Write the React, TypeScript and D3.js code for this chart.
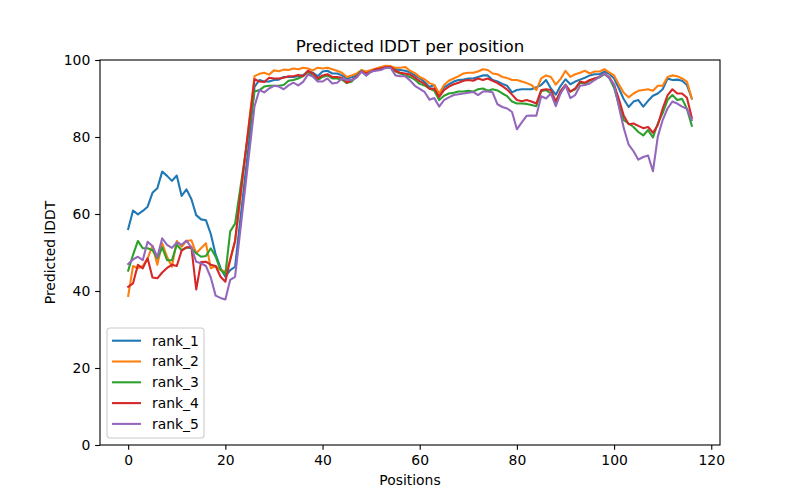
import * as d3 from "d3";
import { useEffect, useRef } from "react";

const rank1 = [
  56.1, 60.9, 59.9, 60.8, 61.9, 65.5, 66.7, 71, 69.9, 68.6, 70, 64.7, 66.4, 63.9, 59.7, 58.6, 58.4, 54.8, 49.5, 46, 43.7, 45.4,
  46.3, 57.7, 68.9, 80, 93, 94.8,
  94.4, 94.4, 94.8, 94.9, 95.6, 95.6, 95.6, 95.8, 96.1, 97, 96.7, 95.8,
  97, 97.2, 96.5, 96.5, 96, 95.2, 95.5, 96, 97, 96, 97, 97.4, 97.8, 98.2, 98.2, 97.6, 97.4, 97.2,
  96.8, 96, 95.3, 94.3, 93, 93.5, 90.9, 92.9, 93.7, 94.4, 94.8, 94.9, 95.2, 95.2, 95.6, 96, 96, 94.8, 94.4, 93.8, 93.3, 91.6, 92.2, 92.4, 92.4,
  92.4, 92.9, 93.5, 94.8, 92.6, 91, 93.3, 95, 93.7, 94.4, 94.9, 95.4, 96, 96.3, 96.3, 97, 96.4, 95.2, 92.6, 89.8,
  87.8, 89.2, 89.6, 87.9, 89.4, 90.7, 91.3, 92.4, 95.2, 94.8, 94.9, 94.6, 93.5, 90,
];

const rank2 = [
  38.7, 46.5, 45.9, 46.5, 48.5, 51.7, 46.8, 52.4, 48.9, 46.3, 53, 51.5, 53, 53.2, 49.8, 51.1, 52.4, 45.9, 46.5, 45.5, 45, 48,
  53, 63, 74, 85, 95.8, 96.4,
  96.7, 96.2, 97.3, 97.1, 97.5, 97.4, 97.8, 97.6, 98, 97.8, 97.3, 98,
  97.8, 98, 97.6, 97.2, 96.7, 95.6, 96, 96.5, 97.4, 97, 97.4, 97.8, 98.2, 98.5, 98.4, 98, 98, 98.2,
  97.2, 96.6, 95.6, 95, 94, 93.5, 91.3, 93.5, 94.6, 95.2, 95.8, 96.5, 96.7, 96.7, 97, 97.6, 97.4, 96.5, 96.3, 95.6, 95.3, 94.8, 94.8, 94.4, 94,
  93.5, 92.2, 95.2, 96, 95.6, 93.6, 95.1, 97.2, 95.6, 96.3, 96.7, 97.2, 96.5, 97, 97, 97.6, 96.8, 96, 93.6, 91.5,
  90.3, 91.3, 92, 92.2, 92.4, 92, 93.3, 93.3, 95.6, 96, 95.8, 95.2, 94.4, 90,
];

const rank3 = [
  45.3, 49.4, 53, 51.1, 51.1, 50.6, 48.5, 51.3, 48, 48, 52, 50.6, 51.3, 51.1, 49.8, 48.9, 49.1, 51.1, 48.9, 45.5, 44.3, 55.5,
  57.5, 66, 74.5, 83, 91.8, 92.2,
  93.1, 93.3, 93.3, 93.3, 93.5, 94.6, 94.8, 95.2, 95.8, 96.9, 95.8, 94.8,
  95.6, 96, 95.2, 95.2, 94.9, 94, 94.4, 95.8, 97.2, 96.3, 97, 97.4, 97.8, 98, 98, 97, 96.5, 96,
  95.6, 94.9, 93.8, 93.4, 92.6, 92, 89.6, 90.7, 91.3, 91.5, 91.8, 91.8, 92, 91.8, 92.4, 92.6, 92, 92.4, 92.1, 91.3, 90.6, 89.2, 88.7, 88.7, 88.6,
  88.3, 88, 91.9, 92.2, 91.3, 89.2, 91.6, 93.2, 91.8, 92.4, 94.1, 93.9, 94.6, 95.2, 95.5, 96.3, 95.4, 92.8, 88.3, 84.4,
  83.5, 82.6, 81.3, 80.4, 81.8, 79.9, 83.5, 86.2, 89.6, 90.9, 89.6, 89.9, 87.3, 82.9,
];

const rank4 = [
  41.1, 42, 46.8, 45.9, 48.5, 43.5, 43.3, 44.8, 46, 46.8, 46.5, 50.5, 51.3, 51.5, 40.4, 47.5, 47.6, 46.8, 46.5, 43.7, 42.4, 48.2,
  53, 63.9, 74.4, 84.8, 95, 94.4,
  94.3, 95.4, 95.2, 95.2, 95.4, 95.8, 95.8, 96.1, 95.8, 97.2, 96.5, 95.2,
  96, 96.3, 95.6, 95.6, 95.4, 94.1, 94.8, 95.6, 97, 96.5, 97, 97.6, 97.8, 98.2, 98.2, 97.2, 96.7, 96.5,
  96.2, 95.4, 94.5, 93.8, 92.5, 92.6, 90.4, 92.2, 93.1, 93.7, 94.1, 94.6, 94.8, 94.6, 95.2, 94.8, 95.2, 94.6, 94, 93.2, 92.3, 91, 89.6, 89.3, 89.6,
  89.2, 88.7, 92.2, 92.4, 92.2, 89.2, 92, 93.6, 91.8, 92.6, 94.4, 94.1, 94.8, 95.2, 95.6, 96.5, 95.5, 93.6, 89.8, 85.5,
  83.3, 83.5, 82.9, 82.3, 82.6, 81.1, 83.1, 87.4, 90.8, 92.4, 91.3, 91.3, 90.2, 85,
];

const rank5 = [
  47, 48.2, 48.9, 48, 52.8, 51.7, 48.8, 53.7, 52, 51.2, 52.6, 52, 53.1, 51.3, 47.6, 47.2, 46.5, 43.5, 38.8, 38.2, 37.8, 42.9,
  43.7, 54.9, 65.9, 76.9, 88, 92.2,
  91.6, 92.6, 93.3, 93.1, 92.4, 93.4, 94.1, 93.4, 94.3, 96.2, 95.7, 94.4,
  94.4, 95.2, 93.9, 94.1, 95.2, 94.8, 94.8, 95.4, 97, 96, 97, 97.2, 97.4, 98, 98, 96, 95.8, 95.8,
  94.7, 93.3, 92.5, 91.7, 89.7, 90.1, 87.9, 89.6, 90.3, 90.9, 91.1, 91.3, 91.5, 91.7, 90.9, 91.8, 91.8, 91.6, 88.5, 87.8, 87.4, 86.5, 82, 83.8, 85.5,
  85.6, 85.5, 90.6, 90, 91.3, 88, 91.3, 93.5, 90.1, 90.9, 93.3, 93.5, 93.9, 94.8, 95.6, 96.5, 95.3, 93.6, 87.8, 82.3,
  78, 76.3, 74.1, 74.8, 75.2, 71.1, 80.1, 84.4, 87.4, 89.2, 88.7, 87.9, 87.3, 84.4,
];

const seriesNames = ["rank_1", "rank_2", "rank_3", "rank_4", "rank_5"];
const seriesValues = [rank1, rank2, rank3, rank4, rank5];
const seriesColors = ["#1f77b4", "#ff7f0e", "#2ca02c", "#d62728", "#9467bd"];
const xTicks = [0, 20, 40, 60, 80, 100, 120];
const yTicks = [0, 20, 40, 60, 80, 100];

const FONT = "DejaVu Sans, sans-serif";

export default function App() {
  const svgRef = useRef<SVGSVGElement | null>(null);

  useEffect(() => {
    if (!svgRef.current) return;
    const svg = d3.select(svgRef.current);
    svg.selectAll("*").remove();

    const width = 800;
    const height = 500;
    const left = 100;
    const right = 720;
    const top = 60;
    const bottom = 445;
    const n = rank1.length;

    svg.attr("viewBox", `0 0 ${width} ${height}`);
    svg.append("rect").attr("width", width).attr("height", height).attr("fill", "#ffffff");

    const pad = (n - 1) * 0.05;
    const x = d3.scaleLinear().domain([-pad, n - 1 + pad]).range([left, right]);
    const y = d3.scaleLinear().domain([0, 100]).range([bottom, top]);

    const line = d3
      .line<number>()
      .x((_, i) => x(i))
      .y((v) => y(v));

    const lines = svg.append("g");
    seriesValues.forEach((values, k) => {
      lines
        .append("path")
        .datum(values)
        .attr("d", line)
        .attr("fill", "none")
        .attr("stroke", seriesColors[k])
        .attr("stroke-width", 2.08)
        .attr("stroke-linejoin", "round")
        .attr("stroke-linecap", "square");
    });

    const tick = 4.86;

    const xAxis = svg
      .append("g")
      .attr("transform", `translate(0,${bottom})`)
      .call(d3.axisBottom(x).tickValues(xTicks).tickSize(tick).tickPadding(4.9).tickSizeOuter(0));
    const yAxis = svg
      .append("g")
      .attr("transform", `translate(${left},0)`)
      .call(d3.axisLeft(y).tickValues(yTicks).tickSize(tick).tickPadding(4.9).tickSizeOuter(0));

    [xAxis, yAxis].forEach((axis) => {
      axis.select(".domain").remove();
      axis.selectAll("line").attr("stroke", "#000").attr("stroke-width", 1.1);
      axis
        .selectAll("text")
        .attr("font-family", FONT)
        .attr("font-size", 13.9)
        .attr("fill", "#000");
    });

    svg
      .append("rect")
      .attr("x", left)
      .attr("y", top)
      .attr("width", right - left)
      .attr("height", bottom - top)
      .attr("fill", "none")
      .attr("stroke", "#000")
      .attr("stroke-width", 1.1);

    svg
      .append("text")
      .attr("x", (left + right) / 2)
      .attr("y", top - 8)
      .attr("text-anchor", "middle")
      .attr("font-family", FONT)
      .attr("font-size", 16.7)
      .text("Predicted lDDT per position");

    svg
      .append("text")
      .attr("x", (left + right) / 2)
      .attr("y", 485)
      .attr("text-anchor", "middle")
      .attr("font-family", FONT)
      .attr("font-size", 13.9)
      .text("Positions");

    svg
      .append("text")
      .attr("transform", `translate(55,${(top + bottom) / 2}) rotate(-90)`)
      .attr("text-anchor", "middle")
      .attr("font-family", FONT)
      .attr("font-size", 13.9)
      .text("Predicted lDDT");

    // legend, lower left
    const legend = svg.append("g").attr("transform", "translate(107,328)");
    legend
      .append("rect")
      .attr("width", 97)
      .attr("height", 110)
      .attr("rx", 3)
      .attr("fill", "#ffffff")
      .attr("fill-opacity", 0.8)
      .attr("stroke", "#cccccc")
      .attr("stroke-width", 1.1);

    const rows = legend
      .selectAll(".legend-row")
      .data(seriesNames)
      .join("g")
      .attr("transform", (_, i) => `translate(0,${12.7 + i * 20.8})`);

    rows
      .append("line")
      .attr("x1", 5)
      .attr("x2", 34)
      .attr("stroke", (_, i) => seriesColors[i])
      .attr("stroke-width", 2.08);

    rows
      .append("text")
      .attr("x", 45)
      .attr("dy", "0.35em")
      .attr("font-family", FONT)
      .attr("font-size", 13.9)
      .attr("fill", "#000")
      .text((d) => d);
  }, []);

  return (
    <div style={{ position: "fixed", left: 0, top: 0, width: 800, height: 500 }}>
      <svg ref={svgRef} width={800} height={500} style={{ display: "block" }} />
    </div>
  );
}
